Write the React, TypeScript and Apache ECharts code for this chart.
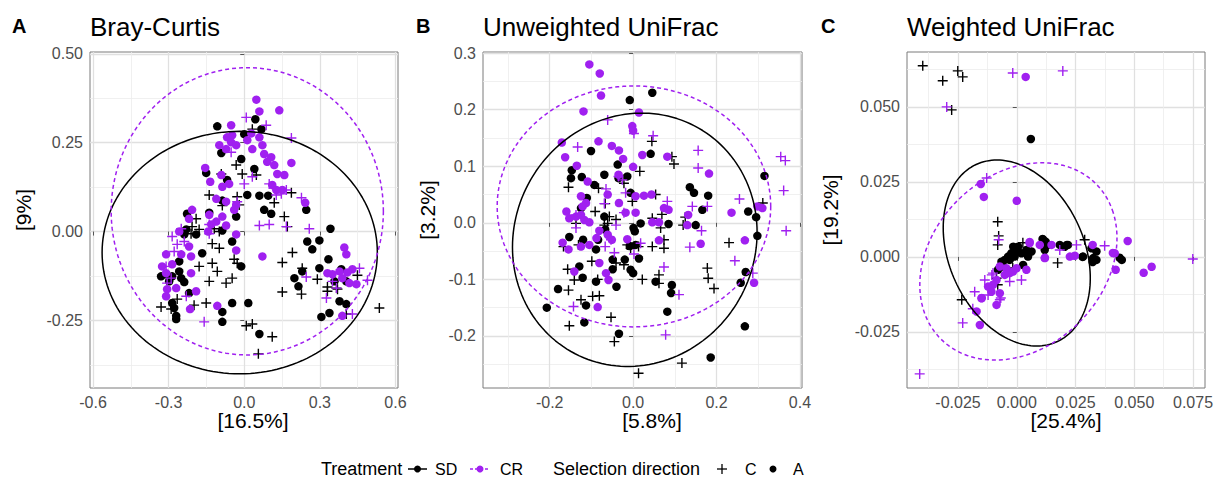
import React, { useEffect, useRef } from "react";
import * as echarts from "echarts";

const FONT = '"Liberation Sans", Arial, Helvetica, sans-serif';
const BLACK = "#000000";
const PURPLE = "#A020F0";

// ---------- Panel A: Bray-Curtis ----------
const braySdA = [[-0.107,0.296],[0.044,0.316],[0.000,0.274],[0.068,0.288],[-0.091,0.221],[-0.012,0.204],[-0.151,0.165],[-0.068,0.145],[0.040,0.176],[0.012,0.103],[0.060,0.101],[0.095,0.101],[0.079,0.061],[0.107,0.050],[0.246,0.061],[0.342,0.008],[-0.087,0.087],[-0.227,0.050],[-0.139,0.053],[-0.032,0.042],[-0.087,0.003],[-0.238,-0.008],[-0.191,-0.008],[-0.230,0.006],[-0.048,-0.028],[-0.167,-0.061],[-0.258,-0.084],[-0.012,-0.098],[0.250,-0.028],[0.298,-0.025],[0.270,-0.050],[0.334,-0.078],[0.298,-0.103],[0.385,-0.106],[0.230,-0.112],[0.199,-0.131],[0.215,-0.154],[0.358,-0.140],[0.405,-0.140],[-0.330,-0.126],[-0.310,-0.120],[-0.286,-0.126],[-0.258,-0.112],[-0.250,-0.131],[-0.238,-0.142],[-0.298,-0.140],[-0.219,-0.173],[-0.286,-0.201],[-0.278,-0.215],[-0.270,-0.237],[-0.270,-0.246],[-0.048,-0.201],[0.016,-0.201],[-0.087,-0.226],[-0.087,-0.254],[0.060,-0.288],[0.378,-0.196],[0.405,-0.204],[0.306,-0.240],[0.338,-0.229]];
const braySdC = [[0.032,0.288],[-0.091,0.162],[-0.032,0.187],[-0.008,0.162],[0.048,0.159],[-0.139,0.103],[-0.087,0.073],[-0.028,0.098],[-0.020,0.075],[0.159,0.042],[0.171,0.014],[-0.191,0.036],[0.119,0.081],[0.187,0.109],[-0.207,0.014],[-0.179,0.006],[-0.211,-0.006],[-0.119,0.008],[-0.099,0.000],[-0.127,-0.034],[-0.099,-0.047],[-0.040,-0.078],[-0.028,-0.089],[-0.179,-0.098],[-0.127,-0.089],[-0.107,-0.112],[-0.139,-0.140],[-0.072,-0.145],[-0.048,-0.131],[0.191,-0.059],[0.151,-0.087],[0.230,-0.103],[0.290,-0.134],[0.330,-0.156],[0.330,-0.168],[0.366,-0.159],[0.151,-0.170],[0.227,-0.176],[-0.330,-0.212],[-0.290,-0.218],[-0.266,-0.190],[-0.199,-0.207],[-0.151,-0.201],[0.008,-0.265],[0.032,-0.260],[0.111,-0.296],[0.056,-0.344],[0.405,-0.232],[0.536,-0.215],[0.449,-0.123],[0.370,-0.162]];
const brayCrA = [[0.048,0.371],[0.060,0.338],[0.139,0.341],[-0.052,0.299],[-0.048,0.271],[-0.068,0.265],[-0.052,0.251],[-0.032,0.243],[-0.099,0.243],[-0.072,0.232],[0.012,0.257],[0.028,0.276],[0.060,0.265],[0.072,0.243],[0.032,0.232],[0.079,0.218],[0.107,0.209],[0.091,0.196],[0.119,0.187],[-0.155,0.179],[-0.135,0.140],[-0.091,0.159],[-0.087,0.126],[0.131,0.162],[0.159,0.159],[0.187,0.193],[0.111,0.131],[0.127,0.117],[0.151,0.117],[-0.060,0.134],[-0.111,0.092],[-0.072,0.084],[0.242,0.081],[-0.207,0.061],[-0.219,0.036],[-0.139,0.047],[-0.111,0.028],[-0.131,0.020],[-0.032,0.075],[-0.040,0.061],[-0.258,0.000],[-0.143,0.000],[-0.087,0.042],[-0.072,0.017],[-0.032,-0.008],[-0.032,-0.053],[-0.310,-0.064],[-0.326,-0.098],[-0.310,-0.117],[-0.286,-0.092],[-0.250,-0.064],[-0.211,-0.070],[-0.211,-0.117],[-0.219,-0.042],[-0.306,-0.162],[-0.270,-0.159],[-0.310,-0.182],[-0.191,-0.168],[-0.215,-0.218],[-0.107,-0.209],[0.072,-0.070],[0.397,-0.045],[0.405,-0.064],[0.378,-0.112],[0.409,-0.115],[0.429,-0.106],[0.389,-0.131],[0.417,-0.145],[0.445,-0.148],[0.350,-0.120],[0.330,-0.117],[0.389,-0.237]];
const brayCrC = [[0.008,0.321],[0.087,0.299],[0.187,0.263],[-0.052,0.223],[0.000,0.134],[0.032,0.154],[0.099,0.134],[0.127,0.103],[0.147,0.106],[0.167,0.117],[0.227,0.095],[0.060,0.017],[0.167,0.014],[0.258,0.008],[-0.028,0.084],[-0.139,0.020],[-0.250,0.008],[-0.286,-0.014],[-0.266,-0.036],[-0.278,-0.056],[-0.238,-0.028],[-0.310,-0.098],[-0.290,-0.131],[-0.306,-0.145],[-0.230,-0.182],[-0.159,-0.254],[0.246,-0.128],[0.350,-0.140],[0.366,-0.159],[0.326,-0.187],[0.457,-0.103],[0.489,-0.137],[0.429,-0.232],[0.099,0.020],[-0.139,-0.006]];

// ---------- Panel B: Unweighted UniFrac ----------
const uwSdA = [[0.046,0.230],[-0.008,0.217],[-0.101,0.127],[0.042,0.122],[-0.147,0.093],[-0.149,0.079],[-0.123,0.081],[-0.093,0.067],[-0.069,0.085],[-0.037,0.103],[-0.035,0.079],[-0.014,0.082],[-0.006,0.053],[-0.111,0.044],[-0.125,0.026],[0.136,0.063],[0.146,0.053],[0.180,0.048],[0.166,0.023],[-0.069,0.011],[-0.067,-0.012],[0.001,-0.009],[0.004,-0.015],[0.018,-0.001],[0.006,-0.039],[-0.008,-0.041],[0.014,-0.063],[0.085,-0.002],[0.150,-0.004],[-0.153,-0.025],[-0.120,-0.030],[-0.084,-0.030],[-0.089,-0.047],[-0.049,-0.065],[-0.049,-0.082],[-0.020,-0.065],[-0.006,-0.083],[0.000,-0.089],[-0.129,-0.077],[-0.121,-0.097],[-0.089,-0.104],[-0.040,-0.113],[0.054,-0.104],[0.093,-0.110],[0.091,-0.124],[-0.180,-0.117],[-0.113,-0.146],[-0.207,-0.150],[-0.117,-0.176],[-0.034,-0.196],[0.082,-0.157],[0.315,0.083],[0.276,0.020],[0.295,0.010],[0.298,-0.023],[0.270,-0.087],[0.258,-0.106],[0.268,-0.183],[0.186,-0.238]];
const uwSdC = [[0.045,0.144],[0.093,0.117],[0.098,0.104],[0.016,0.091],[-0.155,0.063],[-0.083,0.061],[-0.022,0.070],[-0.067,0.034],[-0.091,0.020],[-0.057,0.011],[-0.041,0.006],[-0.002,0.038],[0.054,0.050],[-0.137,-0.001],[-0.069,-0.004],[-0.061,-0.001],[0.046,0.008],[0.069,0.015],[0.066,-0.009],[0.046,-0.042],[0.120,-0.004],[0.125,0.010],[-0.167,-0.042],[-0.131,-0.039],[-0.014,-0.039],[-0.006,-0.045],[0.013,-0.042],[0.074,-0.030],[0.074,-0.045],[-0.099,-0.068],[-0.041,-0.071],[-0.022,-0.074],[-0.157,-0.082],[-0.141,-0.101],[-0.085,-0.100],[0.022,-0.100],[0.062,-0.092],[0.062,-0.107],[0.178,-0.080],[0.180,-0.098],[0.194,-0.116],[-0.155,-0.119],[-0.125,-0.136],[-0.097,-0.130],[-0.081,-0.129],[-0.153,-0.182],[-0.053,-0.167],[-0.045,-0.210],[0.013,-0.266],[0.117,-0.248],[0.230,-0.035],[0.311,0.035]];
const uwCrA = [[-0.105,0.280],[-0.080,0.264],[-0.077,0.225],[-0.119,0.197],[0.014,0.195],[-0.002,0.171],[0.000,0.163],[-0.171,0.142],[-0.163,0.116],[-0.083,0.144],[-0.051,0.136],[-0.034,0.128],[-0.024,0.113],[0.022,0.120],[0.082,0.117],[-0.135,0.101],[0.000,0.099],[-0.035,0.085],[0.182,0.087],[-0.109,0.073],[-0.061,0.050],[-0.125,0.047],[-0.113,0.035],[-0.121,0.029],[-0.160,0.020],[-0.153,0.008],[-0.137,0.011],[-0.125,0.014],[-0.105,0.001],[-0.117,0.005],[-0.034,0.035],[0.006,0.047],[0.026,0.048],[0.044,0.050],[-0.018,0.018],[0.006,0.018],[0.046,0.001],[0.062,0.001],[0.074,0.026],[0.085,0.023],[0.132,0.014],[0.130,-0.004],[-0.081,-0.014],[-0.088,-0.027],[-0.061,-0.021],[-0.051,-0.030],[-0.169,-0.035],[-0.155,-0.047],[-0.105,-0.039],[-0.125,-0.042],[-0.014,-0.029],[0.062,-0.031],[0.162,-0.037],[-0.081,-0.071],[-0.065,-0.089],[-0.059,-0.101],[-0.141,-0.086],[0.236,0.018],[0.268,-0.031],[0.298,0.029],[0.310,0.026],[0.290,-0.106],[-0.085,-0.149]];
const uwCrC = [[-0.061,0.182],[0.002,0.158],[0.048,0.154],[-0.133,0.134],[0.156,0.128],[0.156,0.097],[-0.035,0.082],[-0.026,0.076],[-0.065,0.060],[-0.018,0.053],[-0.069,0.034],[-0.022,0.018],[-0.137,0.014],[-0.137,-0.009],[0.082,0.038],[0.142,0.029],[0.178,0.029],[-0.041,-0.004],[-0.053,-0.030],[0.018,-0.036],[-0.067,-0.042],[-0.045,-0.053],[0.002,-0.055],[0.074,-0.078],[0.136,-0.043],[0.164,-0.014],[0.110,-0.127],[-0.143,-0.148],[0.078,-0.198],[0.255,0.042],[0.244,-0.067],[0.287,-0.089],[0.354,0.117],[0.365,0.110],[0.361,0.057],[0.367,-0.014]];

// ---------- Panel C: Weighted UniFrac ----------
const wSdA = [[0.006,0.0393],[-0.0015,0.0034],[0.0006,0.0034],[-0.0001,0.0018],[-0.0023,0.0012],[-0.0037,0.0001],[-0.0051,-0.0010],[-0.0065,-0.0016],[-0.0058,-0.0032],[-0.0080,-0.0043],[-0.0030,-0.0010],[-0.0009,0.0001],[0.0020,0.0012],[0.0041,0.0023],[0.0063,0.0018],[0.0048,0.0001],[0.0027,-0.0027],[0.0112,0.0057],[0.0123,0.0051],[0.0133,0.0040],[0.0119,0.0023],[0.0183,0.0040],[0.0204,0.0034],[0.0218,0.0040],[0.0282,0.0001],[0.0318,0.0029],[0.0339,0.0018],[0.0339,-0.0010],[0.0325,-0.0004],[0.0438,-0.0003],[0.0447,-0.0010],[0.0323,-0.0017],[0.0280,0.0000],[0.0110,0.0060],[0.0213,0.0040]];
const wSdC = [[-0.040,0.0637],[-0.0315,0.0587],[-0.0251,0.062],[-0.023,0.060],[-0.0277,0.049],[-0.0081,0.0117],[-0.0077,0.0070],[-0.0234,-0.0143],[0.0174,-0.0020],[0.0289,0.0057],[0.0026,0.0047],[-0.0081,-0.0093],[-0.0017,-0.0037],[-0.0081,0.0040],[-0.0086,-0.0071]];
const wCrA = [[0.0038,0.060],[-0.0153,0.0243],[-0.014,0.020],[0.000,0.0187],[0.0055,0.0046],[0.0098,0.0040],[0.0119,-0.0004],[0.0148,0.0040],[0.0226,0.0001],[0.0247,0.0004],[0.0417,0.0012],[0.0421,-0.0043],[-0.0072,-0.0032],[-0.0044,-0.0038],[-0.0030,-0.0054],[-0.0016,-0.0049],[-0.0001,-0.0038],[-0.0051,-0.0060],[-0.0086,-0.0077],[-0.0101,-0.0093],[-0.0122,-0.0099],[-0.0108,-0.0116],[-0.0072,-0.0121],[-0.0150,-0.0138],[-0.0086,-0.0160],[-0.0171,-0.0182],[0.0041,-0.0043],[0.0472,0.0053],[0.0540,-0.0053],[0.0574,-0.0033],[-0.0157,-0.0227],[-0.0149,-0.0137],[0.0120,-0.0003],[0.0323,0.0040],[0.0409,0.0013],[0.0055,0.0050]];
const wCrC = [[-0.0298,0.050],[-0.0017,0.0613],[0.0196,0.062],[-0.0128,0.0263],[-0.0077,0.0057],[-0.0179,-0.0116],[-0.0030,-0.0082],[0.0020,-0.0077],[-0.0101,-0.0054],[0.0183,0.0023],[0.0254,0.0040],[0.0374,0.0037],[-0.0072,-0.0143],[-0.0122,-0.0127],[-0.0187,-0.0173],[-0.0230,-0.0220],[-0.0068,-0.0137],[-0.0413,-0.0390],[0.0749,-0.0007],[-0.0106,-0.0060],[-0.0136,-0.0077]];

// ellipse parameters: [centerX, centerY, semiAxisA, semiAxisB, angleDeg]
const brayEllSD = [-0.018, -0.059, 0.546, 0.341, 0];
const brayEllCR = [0.012, 0.057, 0.54, 0.404, 0];
const uwEllSD = [0.004, -0.03, 0.294, 0.223, 6];
const uwEllCR = [0.002, 0.029, 0.328, 0.213, 0];
const wEllSD = [0.0, 0.0013, 0.0351, 0.0266, -44];
const wEllCR = [0.0007, -0.0015, 0.0435, 0.0308, 22];

// axis ticks
const brayXTicks = [-0.6, -0.3, 0, 0.3, 0.6];
const brayXMinor = [-0.45, -0.15, 0.15, 0.45];
const brayYTicks = [-0.25, 0, 0.25, 0.5];
const brayYMinor = [-0.375, -0.125, 0.125, 0.375];
const uwXTicks = [-0.2, 0, 0.2, 0.4];
const uwXMinor = [-0.3, -0.1, 0.1, 0.3];
const uwYTicks = [-0.2, -0.1, 0, 0.1, 0.2, 0.3];
const uwYMinor = [-0.25, -0.15, -0.05, 0.05, 0.15, 0.25];
const wXTicks = [-0.025, 0, 0.025, 0.05, 0.075];
const wXMinor = [-0.0375, -0.0125, 0.0125, 0.0375, 0.0625];
const wYTicks = [-0.025, 0, 0.025, 0.05];
const wYMinor = [-0.0375, -0.0125, 0.0125, 0.0375, 0.0625];

const panelLetters = ["A", "B", "C"];
const panelTitles = ["Bray-Curtis", "Unweighted UniFrac", "Weighted UniFrac"];
const xNames = ["[16.5%]", "[5.8%]", "[25.4%]"];
const yNames = ["[9%]", "[3.2%]", "[19.2%]"];

const panels = [
  { sdA: braySdA, sdC: braySdC, crA: brayCrA, crC: brayCrC, ellSD: brayEllSD, ellCR: brayEllCR,
    xRange: [-0.612, 0.61], yRange: [-0.44, 0.505], xTicks: brayXTicks, xMinor: brayXMinor, yTicks: brayYTicks, yMinor: brayYMinor, xDec: 1, yDec: 2 },
  { sdA: uwSdA, sdC: uwSdC, crA: uwCrA, crC: uwCrC, ellSD: uwEllSD, ellCR: uwEllCR,
    xRange: [-0.36, 0.405], yRange: [-0.292, 0.302], xTicks: uwXTicks, xMinor: uwXMinor, yTicks: uwYTicks, yMinor: uwYMinor, xDec: 1, yDec: 1 },
  { sdA: wSdA, sdC: wSdC, crA: wCrA, crC: wCrC, ellSD: wEllSD, ellCR: wEllCR,
    xRange: [-0.0467, 0.0801], yRange: [-0.0437, 0.0683], xTicks: wXTicks, xMinor: wXMinor, yTicks: wYTicks, yMinor: wYMinor, xDec: 3, yDec: 3 },
];

const layout = [
  { left: 90, top: 52, width: 308, height: 336, titleX: 90, letterX: 12, xNameX: 253, yNameX: 23 },
  { left: 483, top: 52, width: 319, height: 336, titleX: 483, letterX: 416, xNameX: 652, yNameX: 427 },
  { left: 907, top: 52, width: 298, height: 336, titleX: 907, letterX: 821, xNameX: 1066, yNameX: 830 },
];

const PLUS = "path://M4.3,0H5.7V4.3H10V5.7H5.7V10H4.3V5.7H0V4.3H4.3Z";

function ellipse(p: number[]) {
  const [cx, cy, a, b, deg] = p;
  const th = (deg * Math.PI) / 180;
  const pts: number[][] = [];
  const n = 160;
  for (let i = 0; i <= n; i++) {
    const t = (i / n) * 2 * Math.PI;
    const x = cx + a * Math.cos(t) * Math.cos(th) - b * Math.sin(t) * Math.sin(th);
    const y = cy + a * Math.cos(t) * Math.sin(th) + b * Math.sin(t) * Math.cos(th);
    pts.push([x, y]);
  }
  return pts;
}

function buildOption() {
  const grid: any[] = [];
  const xAxis: any[] = [];
  const yAxis: any[] = [];
  const series: any[] = [];
  const graphic: any[] = [];
  const tickLabel = { fontSize: 16, color: "#4d4d4d", fontFamily: FONT };

  panels.forEach((p, i) => {
    const L = layout[i];
    grid.push({ left: L.left, top: L.top, width: L.width, height: L.height, show: true, borderColor: "#7a7a7a", borderWidth: 1, backgroundColor: "#ffffff", containLabel: false });
    // minor axes (grid lines only) — index 2*i
    xAxis.push({
      type: "value", gridIndex: i, min: p.xRange[0], max: p.xRange[1], position: "top",
      axisLine: { show: false }, axisLabel: { show: false, customValues: p.xMinor },
      axisTick: { show: false, customValues: p.xMinor },
      splitLine: { show: true, lineStyle: { color: "#ececec", width: 0.8 } },
    });
    yAxis.push({
      type: "value", gridIndex: i, min: p.yRange[0], max: p.yRange[1], position: "right",
      axisLine: { show: false }, axisLabel: { show: false, customValues: p.yMinor },
      axisTick: { show: false, customValues: p.yMinor },
      splitLine: { show: true, lineStyle: { color: "#ececec", width: 0.8 } },
    });
    // major axes — index 2*i+1
    xAxis.push({
      type: "value", gridIndex: i, min: p.xRange[0], max: p.xRange[1], position: "bottom",
      axisLine: { show: false },
      axisTick: { show: true, customValues: p.xTicks, length: 4, lineStyle: { color: "#555", width: 1 } },
      axisLabel: { customValues: p.xTicks, margin: 6, formatter: (v: number) => v.toFixed(p.xDec), ...tickLabel },
      splitLine: { show: true, lineStyle: { color: "#e0e0e0", width: 1.3 } },
    });
    yAxis.push({
      type: "value", gridIndex: i, min: p.yRange[0], max: p.yRange[1], position: "left",
      axisLine: { show: false },
      axisTick: { show: true, customValues: p.yTicks, length: 4, lineStyle: { color: "#555", width: 1 } },
      axisLabel: { customValues: p.yTicks, margin: 7, formatter: (v: number) => v.toFixed(p.yDec), ...tickLabel },
      splitLine: { show: true, lineStyle: { color: "#e0e0e0", width: 1.3 } },
    });
    const xi = 2 * i + 1;
    const pt = (data: number[][], color: string, plus: boolean) => ({
      type: "scatter", xAxisIndex: xi, yAxisIndex: xi, data, z: 3, silent: true,
      symbol: plus ? PLUS : "circle", symbolSize: plus ? 10 : 8.5,
      itemStyle: { color, opacity: 1, borderWidth: 0 },
    });
    series.push(pt(p.sdA, BLACK, false));
    series.push(pt(p.sdC, BLACK, true));
    series.push(pt(p.crA, PURPLE, false));
    series.push(pt(p.crC, PURPLE, true));
    series.push({ type: "line", xAxisIndex: xi, yAxisIndex: xi, data: ellipse(p.ellSD), showSymbol: false, symbol: "none", z: 4, silent: true, lineStyle: { color: BLACK, width: 1.5, type: "solid" } });
    series.push({ type: "line", xAxisIndex: xi, yAxisIndex: xi, data: ellipse(p.ellCR), showSymbol: false, symbol: "none", z: 4, silent: true, lineStyle: { color: PURPLE, width: 1.5, type: [4, 3] } });

    graphic.push({ type: "text", x: L.letterX, y: 26, style: { text: panelLetters[i], font: `bold 20px ${FONT}`, fill: "#000", verticalAlign: "middle" } });
    graphic.push({ type: "text", x: L.titleX, y: 27, style: { text: panelTitles[i], font: `26px ${FONT}`, fill: "#000", verticalAlign: "middle" } });
    graphic.push({ type: "text", x: L.xNameX, y: 420, style: { text: xNames[i], font: `21px ${FONT}`, fill: "#000", align: "center", verticalAlign: "middle" } });
    graphic.push({ type: "text", x: L.yNameX, y: 210, rotation: Math.PI / 2, style: { text: yNames[i], font: `21px ${FONT}`, fill: "#000", align: "center", verticalAlign: "middle" } });
  });

  // legend
  const ly = 469;
  graphic.push({ type: "text", x: 321, y: ly, style: { text: "Treatment", font: `18px ${FONT}`, fill: "#000", verticalAlign: "middle" } });
  graphic.push({ type: "line", shape: { x1: 408, y1: ly, x2: 427, y2: ly }, style: { stroke: BLACK, lineWidth: 1.5 } });
  graphic.push({ type: "circle", shape: { cx: 417.5, cy: ly, r: 3.5 }, style: { fill: BLACK } });
  graphic.push({ type: "text", x: 435, y: ly, style: { text: "SD", font: `16px ${FONT}`, fill: "#000", verticalAlign: "middle" } });
  graphic.push({ type: "line", shape: { x1: 470, y1: ly, x2: 490, y2: ly }, style: { stroke: PURPLE, lineWidth: 1.5, lineDash: [3, 2] } });
  graphic.push({ type: "circle", shape: { cx: 480, cy: ly, r: 3.5 }, style: { fill: PURPLE } });
  graphic.push({ type: "text", x: 500, y: ly, style: { text: "CR", font: `16px ${FONT}`, fill: "#000", verticalAlign: "middle" } });
  graphic.push({ type: "text", x: 553, y: ly, style: { text: "Selection direction", font: `18px ${FONT}`, fill: "#000", verticalAlign: "middle" } });
  graphic.push({ type: "line", shape: { x1: 717, y1: ly, x2: 727, y2: ly }, style: { stroke: BLACK, lineWidth: 1.3 } });
  graphic.push({ type: "line", shape: { x1: 722, y1: ly - 5, x2: 722, y2: ly + 5 }, style: { stroke: BLACK, lineWidth: 1.3 } });
  graphic.push({ type: "text", x: 745, y: ly, style: { text: "C", font: `16px ${FONT}`, fill: "#000", verticalAlign: "middle" } });
  graphic.push({ type: "circle", shape: { cx: 773, cy: ly, r: 3.5 }, style: { fill: BLACK } });
  graphic.push({ type: "text", x: 793, y: ly, style: { text: "A", font: `16px ${FONT}`, fill: "#000", verticalAlign: "middle" } });

  return { animation: false, backgroundColor: "#ffffff", grid, xAxis, yAxis, series, graphic };
}

export default function App() {
  const ref = useRef<HTMLDivElement>(null);
  useEffect(() => {
    const chart = echarts.init(ref.current as HTMLDivElement, null, { renderer: "svg" });
    chart.setOption(buildOption() as any);
    return () => chart.dispose();
  }, []);
  return <div ref={ref} style={{ position: "absolute", left: 0, top: 0, width: 1218, height: 480 }} />;
}
